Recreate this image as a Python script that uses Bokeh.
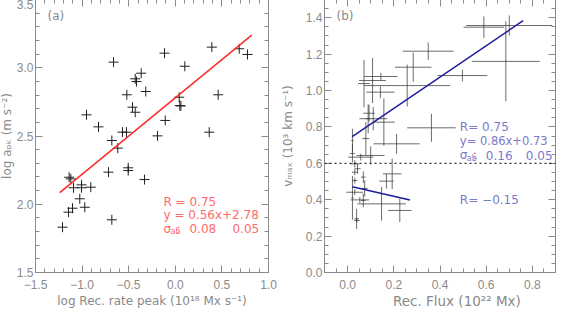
import numpy as np
from bokeh.plotting import figure
from bokeh.models import (ColumnDataSource, Range1d, LinearAxis, SingleIntervalTicker,
                          Span, Label, CustomJSTickFormatter)
from bokeh.layouts import row
from bokeh.embed import file_html
from bokeh.resources import INLINE

# ---------------- data: panel (a) ----------------
a_x = [-0.663, -0.953, -0.824, -0.681, -0.617, -0.567, -0.524, -0.520, -0.459, -0.430,
       -0.430, -0.416, -0.366, -0.317, -0.191, -0.116, -0.108, 0.042, 0.048, 0.060,
       0.102, 0.364, 0.392, 0.460, 0.686, 0.775,
       -1.139, -1.121, -1.092, -1.006, -1.006, -0.907, -1.025, -0.971, -1.103, -1.146,
       -1.210, -0.717, -0.681, -0.505, -0.505, -0.330]
a_y = [3.041, 2.655, 2.567, 2.467, 2.411, 2.528, 2.528, 2.802, 2.711, 2.674,
       2.919, 2.899, 2.960, 2.826, 2.501, 3.107, 2.614, 2.784, 2.723, 2.720,
       3.011, 2.528, 3.151, 2.802, 3.139, 3.097,
       2.198, 2.186, 2.121, 2.142, 2.121, 2.125, 2.040, 1.978, 1.971, 1.942,
       1.832, 2.235, 1.886, 2.267, 2.247, 2.181]
a_fit_slope, a_fit_icpt = 0.56, 2.78
a_fit_xrange = [-1.24, 0.82]

# ---------------- data: panel (b) ----------------
b_x = [0.590, 0.700, 0.685, 0.349, 0.284, 0.497, 0.258, 0.144, 0.108, 0.071,
       0.142, 0.111, 0.157, 0.089, 0.363, 0.212, 0.079, 0.021, 0.100, 0.057,
       0.021, 0.093,
       0.193, 0.168, 0.147, 0.226, 0.053, 0.031, 0.039, 0.040, 0.068, 0.031,
       0.043, 0.031, 0.031, 0.021, 0.068, 0.074]
b_y = [1.348, 1.357, 1.160, 1.216, 1.128, 1.082, 1.027, 1.077, 1.055, 1.038,
       0.991, 0.845, 0.826, 0.845, 0.795, 0.707, 0.736, 0.725, 0.643, 0.634,
       0.654, 0.875,
       0.542, 0.502, 0.377, 0.341, 0.399, 0.441, 0.295, 0.286, 0.524, 0.505,
       0.570, 0.551, 0.597, 0.410, 0.396, 0.462]
b_xerr = [0.088, 0.186, 0.147, 0.110, 0.079, 0.108, 0.186, 0.072, 0.058, 0.026,
          0.061, 0.060, 0.047, 0.010, 0.105, 0.100, 0.015, 0.005, 0.060, 0.054,
          0.010, 0.025,
          0.040, 0.031, 0.105, 0.051, 0.040, 0.036, 0.010, 0.012, 0.010, 0.012,
          0.013, 0.012, 0.020, 0.005, 0.010, 0.013]
b_yerr = [0.059, 0.055, 0.220, 0.048, 0.080, 0.032, 0.115, 0.020, 0.124, 0.130,
          0.033, 0.064, 0.130, 0.080, 0.077, 0.055, 0.090, 0.065, 0.050, 0.018,
          0.050, 0.045,
          0.084, 0.041, 0.092, 0.064, 0.016, 0.016, 0.055, 0.010, 0.032, 0.016,
          0.027, 0.016, 0.020, 0.120, 0.038, 0.045]
b_fit_hi_slope, b_fit_hi_icpt = 0.86, 0.73
b_fit_hi_xrange = [0.02, 0.76]
b_fit_lo_slope, b_fit_lo_icpt = -0.29, 0.477
b_fit_lo_xrange = [0.02, 0.27]
b_threshold = 0.6

GRAY = "#8a8a8a"
TICKFONT = "Liberation Sans"
FONT = "DejaVu Sans"


def style_axis(ax, interval, nminor, labels=True):
    ax.ticker = SingleIntervalTicker(interval=interval, num_minor_ticks=nminor)
    ax.axis_line_color = None
    ax.major_tick_in = 7
    ax.major_tick_out = 0
    ax.minor_tick_in = 4
    ax.minor_tick_out = 0
    ax.major_tick_line_color = GRAY
    ax.minor_tick_line_color = GRAY
    ax.formatter = CustomJSTickFormatter(
        code="return tick.toFixed(1).replace('-', '\\u2212');")
    if labels:
        ax.major_label_text_font = TICKFONT
        ax.major_label_text_font_size = "12px"
        ax.major_label_text_color = GRAY
        ax.axis_label_text_font = FONT
        ax.axis_label_text_font_size = "12px"
        ax.axis_label_text_font_style = "normal"
        ax.axis_label_text_color = GRAY
    else:
        ax.major_label_text_color = None
        ax.major_label_standoff = 0


def make_fig(xr, yr, left, right, frame_w, xint, xminor, yint, yminor):
    p = figure(x_range=Range1d(*xr), y_range=Range1d(*yr),
               frame_width=frame_w, frame_height=273,
               min_border_left=left, min_border_right=right,
               min_border_top=0, min_border_bottom=37,
               toolbar_location=None, output_backend="svg",
               background_fill_color="white", border_fill_color="white")
    p.grid.visible = False
    p.outline_line_color = GRAY
    p.outline_line_width = 1
    bottom = p.xaxis[0]
    left_ax = p.yaxis[0]
    style_axis(bottom, xint, xminor)
    style_axis(left_ax, yint, yminor)
    bottom.major_label_standoff = 7
    left_ax.major_label_standoff = 2
    top = LinearAxis()
    style_axis(top, xint, xminor, labels=False)
    p.add_layout(top, "above")
    rgt = LinearAxis()
    style_axis(rgt, yint, yminor, labels=False)
    p.add_layout(rgt, "right")
    return p, bottom, left_ax


def txt(p, x, y, s, color, size="12px", xoff=0, yoff=0):
    p.add_layout(Label(x=x, y=y, text=s, x_offset=xoff, y_offset=yoff,
                       text_font=FONT, text_font_size=size, text_color=color,
                       text_baseline="middle", text_align="left"))


# ---------------- panel (a) ----------------
pa, pa_x, pa_y = make_fig((-1.5, 1.0), (1.5, 3.5), 43, 9, 233, 0.5, 5, 0.5, 5)
pa_x.axis_label = "log Rec. rate peak (10\u00b9\u2078 Mx s\u207b\u00b9)"
pa_y.axis_label = "log a\u209a\u2096 (m s\u207b\u00b2)"
pa_x.axis_label_standoff = 2
pa_y.axis_label_standoff = 0
pa.scatter(a_x, a_y, marker="cross", size=10, line_color="#202020", line_width=1)
fx = np.array(a_fit_xrange)
pa.line(fx, a_fit_slope * fx + a_fit_icpt, line_color="#ff2a2a", line_width=1.5)
RED = "#ff6a6a"
txt(pa, -1.371, 3.379, "(a)", GRAY)
txt(pa, -0.127, 2.02, "R = 0.75", RED)
txt(pa, -0.127, 1.918, "y = 0.56x+2.78", RED)
txt(pa, -0.127, 1.822, "\u03c3", RED)
txt(pa, -0.127, 1.822, "ab", RED, size="8px", xoff=7, yoff=-3)
txt(pa, -0.127, 1.822, ":", RED, xoff=13)
txt(pa, -0.127, 1.822, "0.08", RED, xoff=26)
txt(pa, -0.127, 1.822, "0.05", RED, xoff=69)

# ---------------- panel (b) ----------------
pb, pb_x, pb_y = make_fig((-0.1, 0.9), (0.0, 1.5), 43, 9, 231, 0.2, 4, 0.2, 4)
pb_y.axis_label = "v\u2098\u2090\u2093 (10\u00b3 km s\u207b\u00b9)"
pb_y.axis_label_standoff = 8
pb_x.axis_label = "\u2003\u2003\u2002Rec. Flux (10\u00b2\u00b2 Mx)"
pb_x.axis_label_text_font_size = "13.5px"
pb_x.axis_label_standoff = 1
bx = np.array(b_x); by = np.array(b_y)
bxe = np.array(b_xerr); bye = np.array(b_yerr)
src = ColumnDataSource(dict(x=bx, y=by, x0=bx - bxe, x1=bx + bxe, y0=by - bye, y1=by + bye))
pb.segment(x0="x0", y0="y", x1="x1", y1="y", source=src, line_color="#3a3a3a",
           line_alpha=0.75, line_width=1)
pb.segment(x0="x", y0="y0", x1="x", y1="y1", source=src, line_color="#3a3a3a",
           line_alpha=0.75, line_width=1)
pb.add_layout(Span(location=b_threshold, dimension="width", line_color="black",
                   line_dash="2 3", line_width=1))
hx = np.array(b_fit_hi_xrange)
pb.line(hx, b_fit_hi_slope * hx + b_fit_hi_icpt, line_color="#1c1c9c", line_width=1.5)
lx = np.array(b_fit_lo_xrange)
pb.line(lx, b_fit_lo_slope * lx + b_fit_lo_icpt, line_color="#1c1c9c", line_width=1.5)
BLUE = "#7a7acc"
txt(pb, -0.048, 1.41, "(b)", GRAY)
txt(pb, 0.486, 0.797, "R= 0.75", BLUE)
txt(pb, 0.486, 0.72, "y= 0.86x+0.73", BLUE, size="11.5px")
txt(pb, 0.486, 0.643, "\u03c3", BLUE)
txt(pb, 0.486, 0.643, "ab", BLUE, size="8px", xoff=7, yoff=-3)
txt(pb, 0.486, 0.643, ":", BLUE, xoff=13)
txt(pb, 0.486, 0.643, "0.16", BLUE, xoff=26)
txt(pb, 0.486, 0.643, "0.05", BLUE, xoff=66)
txt(pb, 0.486, 0.396, "R= \u22120.15", BLUE)

layout = row(pa, pb, styles={"position": "relative", "left": "-8px", "top": "-1px"})
open("out.html", "w").write(file_html(layout, INLINE))
